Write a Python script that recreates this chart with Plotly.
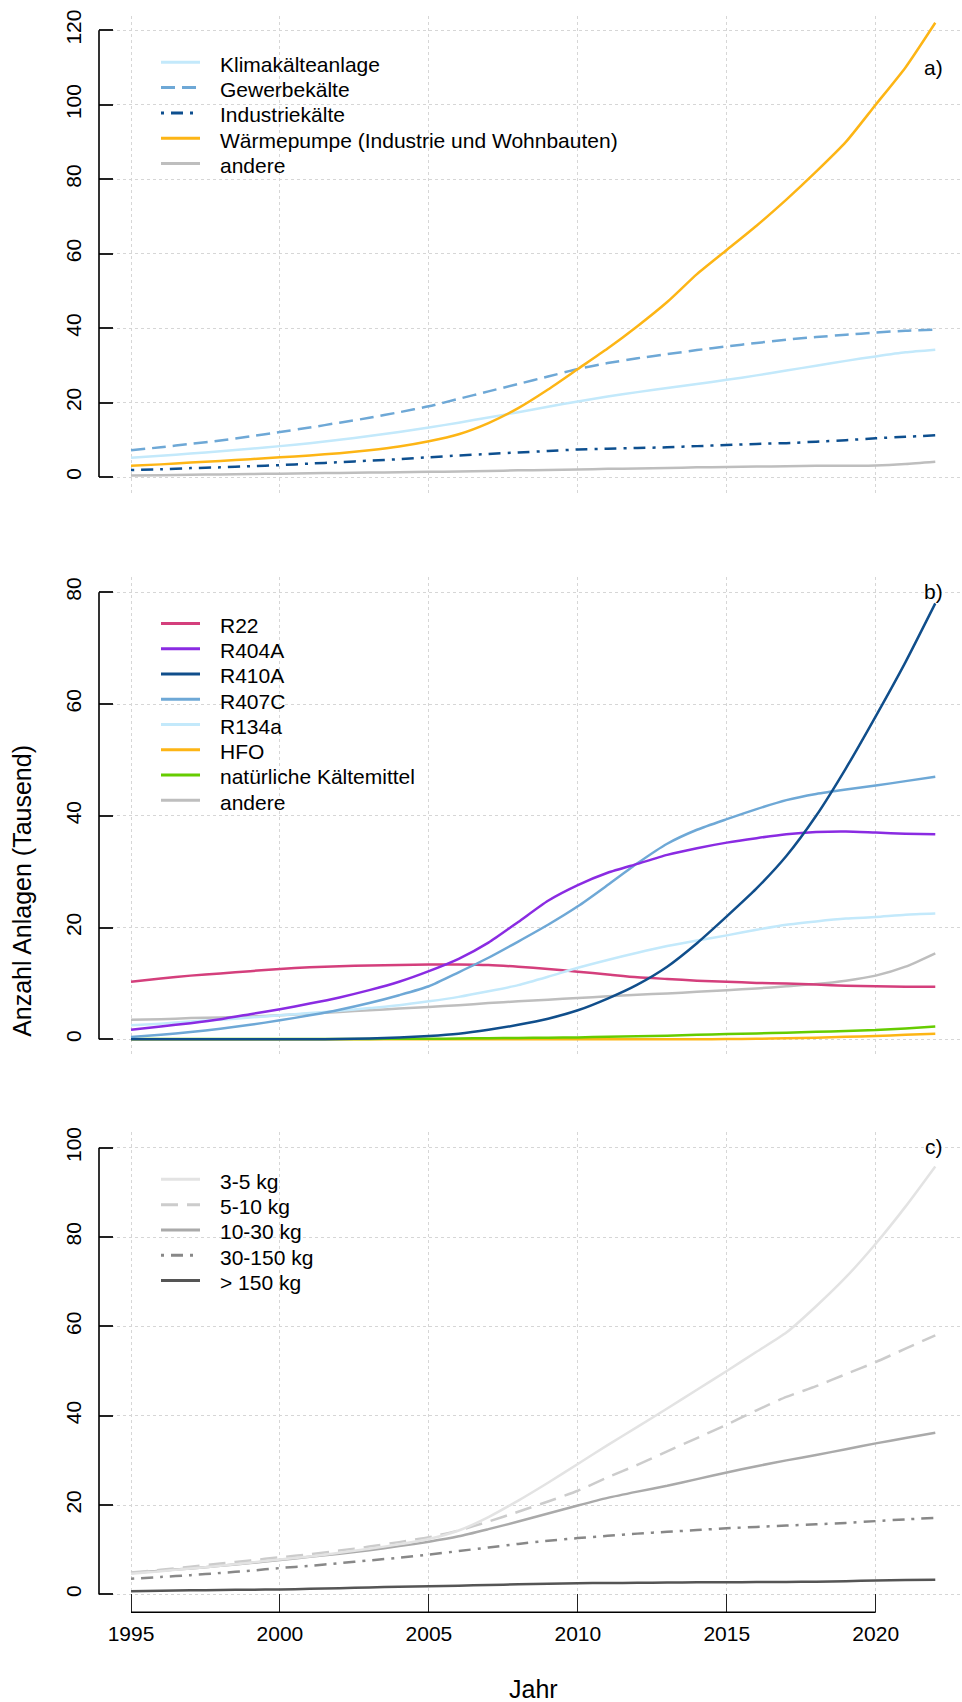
import plotly.graph_objects as go

W, H = 962, 1702
FONT = "Liberation Sans, Arial, sans-serif"

years = list(range(1995, 2023))
year_ticks = [1995, 2000, 2005, 2010, 2015, 2020]

# ---- a) Anzahl Anlagen nach Anwendungsbereich (Tausend) ----
a_names = ["Klimakälteanlage", "Gewerbekälte", "Industriekälte",
           "Wärmepumpe (Industrie und Wohnbauten)", "andere"]
a_klima = [5.2, 5.7, 6.3, 6.9, 7.6, 8.3, 9.1, 10.0, 11.0, 12.1, 13.3, 14.6, 16.0, 17.4,
           18.9, 20.3, 21.6, 22.8, 23.9, 25.0, 26.1, 27.3, 28.6, 29.9, 31.2, 32.4, 33.5, 34.2]
a_gewerbe = [7.2, 8.0, 8.9, 9.8, 10.9, 12.1, 13.3, 14.6, 15.9, 17.4, 19.0, 21.0, 23.0, 25.0,
             27.0, 29.0, 30.6, 31.9, 33.0, 34.1, 35.1, 36.0, 36.9, 37.6, 38.2, 38.8, 39.3, 39.6]
a_industrie = [1.9, 2.1, 2.4, 2.6, 2.9, 3.2, 3.6, 4.0, 4.4, 4.8, 5.3, 5.8, 6.2, 6.6,
               7.0, 7.4, 7.6, 7.8, 8.0, 8.3, 8.6, 8.9, 9.1, 9.5, 9.9, 10.4, 10.8, 11.2]
a_waermepumpe = [3.0, 3.4, 3.9, 4.3, 4.8, 5.3, 5.8, 6.4, 7.2, 8.2, 9.6, 11.5, 14.5, 18.5,
                 23.5, 29.0, 34.5, 40.5, 47.0, 54.5, 61.0, 67.5, 74.5, 82.0, 90.0, 100.0, 110.0, 122.0]
a_andere = [0.4, 0.5, 0.6, 0.7, 0.8, 0.9, 1.0, 1.1, 1.2, 1.3, 1.4, 1.5, 1.6, 1.8,
            1.9, 2.0, 2.2, 2.3, 2.4, 2.6, 2.7, 2.8, 2.9, 3.0, 3.0, 3.1, 3.5, 4.1]

# ---- b) Anzahl Anlagen nach Kältemittel (Tausend) ----
b_names = ["R22", "R404A", "R410A", "R407C", "R134a", "HFO",
           "natürliche Kältemittel", "andere"]
b_r22 = [10.3, 10.9, 11.4, 11.8, 12.2, 12.6, 12.9, 13.1, 13.2, 13.3, 13.4, 13.4, 13.3, 13.0,
         12.6, 12.1, 11.6, 11.1, 10.8, 10.5, 10.3, 10.1, 10.0, 9.8, 9.6, 9.5, 9.4, 9.4]
b_r404a = [1.7, 2.3, 2.9, 3.6, 4.5, 5.4, 6.4, 7.5, 8.8, 10.3, 12.2, 14.4, 17.3, 21.0,
           24.8, 27.6, 29.8, 31.4, 33.0, 34.2, 35.2, 36.0, 36.7, 37.1, 37.2, 37.0, 36.8, 36.7]
b_r410a = [0.0, 0.0, 0.0, 0.0, 0.0, 0.0, 0.02, 0.05, 0.15, 0.35, 0.6, 1.0, 1.7, 2.6,
           3.7, 5.2, 7.3, 9.8, 13.0, 17.2, 22.0, 27.0, 32.8, 40.0, 48.5, 57.8, 67.5, 78.0]
b_r407c = [0.4, 0.8, 1.3, 1.9, 2.6, 3.4, 4.3, 5.3, 6.5, 7.9, 9.5, 12.0, 14.6, 17.5,
           20.5, 23.8, 27.6, 31.5, 35.0, 37.5, 39.4, 41.2, 42.8, 43.9, 44.7, 45.4, 46.2, 47.0]
b_r134a = [2.5, 2.8, 3.2, 3.5, 3.9, 4.3, 4.7, 5.1, 5.6, 6.1, 6.8, 7.6, 8.6, 9.7,
           11.2, 12.8, 14.2, 15.5, 16.7, 17.7, 18.6, 19.6, 20.5, 21.1, 21.6, 21.9, 22.3, 22.5]
b_hfo = [0.0, 0.0, 0.0, 0.0, 0.0, 0.0, 0.0, 0.0, 0.0, 0.0, 0.0, 0.0, 0.0, 0.0,
         0.0, 0.0, 0.0, 0.0, 0.0, 0.02, 0.05, 0.1, 0.2, 0.3, 0.45, 0.6, 0.8, 1.0]
b_natuerlich = [0.05, 0.05, 0.05, 0.05, 0.05, 0.05, 0.06, 0.07, 0.08, 0.09, 0.1, 0.15, 0.2, 0.25,
                0.3, 0.35, 0.45, 0.55, 0.65, 0.8, 0.95, 1.05, 1.2, 1.35, 1.5, 1.65, 1.95, 2.3]
b_andere = [3.5, 3.6, 3.8, 3.9, 4.1, 4.3, 4.6, 4.9, 5.2, 5.5, 5.8, 6.1, 6.5, 6.8,
            7.1, 7.4, 7.7, 8.0, 8.2, 8.5, 8.8, 9.1, 9.5, 9.9, 10.5, 11.4, 13.0, 15.4]

# ---- c) Anzahl Anlagen nach Füllmenge (Tausend) ----
c_names = ["3-5 kg", "5-10 kg", "10-30 kg", "30-150 kg", "> 150 kg"]
c_3_5 = [4.6, 5.2, 5.8, 6.4, 7.1, 7.8, 8.5, 9.3, 10.2, 11.2, 12.4, 14.3, 17.3, 21.0,
         25.0, 29.2, 33.4, 37.5, 41.6, 45.8, 50.0, 54.3, 58.6, 64.5, 71.0, 78.5, 86.8, 95.8]
c_5_10 = [4.9, 5.5, 6.2, 6.9, 7.6, 8.3, 9.0, 9.8, 10.7, 11.7, 12.8, 14.3, 16.3, 18.5,
          20.8, 23.2, 26.2, 29.0, 32.0, 35.0, 38.0, 41.2, 44.2, 46.6, 49.3, 52.0, 55.0, 58.0]
c_10_30 = [4.8, 5.3, 5.8, 6.4, 7.0, 7.7, 8.4, 9.1, 9.9, 10.8, 11.8, 13.0, 14.6, 16.3,
           18.1, 19.9, 21.6, 23.0, 24.3, 25.8, 27.3, 28.7, 30.0, 31.2, 32.5, 33.8, 35.0, 36.2]
c_30_150 = [3.5, 3.9, 4.3, 4.8, 5.3, 5.9, 6.4, 7.0, 7.6, 8.2, 8.9, 9.7, 10.5, 11.3,
            12.0, 12.6, 13.1, 13.6, 14.0, 14.4, 14.8, 15.1, 15.4, 15.7, 16.0, 16.4, 16.8, 17.1]
c_150 = [0.7, 0.8, 0.9, 1.0, 1.05, 1.1, 1.25, 1.4, 1.55, 1.7, 1.8, 1.95, 2.1, 2.25,
         2.4, 2.5, 2.55, 2.6, 2.65, 2.7, 2.7, 2.75, 2.8, 2.85, 2.95, 3.1, 3.2, 3.3]

y_ticks_a = [0, 20, 40, 60, 80, 100, 120]
y_ticks_b = [0, 20, 40, 60, 80]
y_ticks_c = [0, 20, 40, 60, 80, 100]

# ---- line styles ----
DASHED = "14px,7px"
DASHED_LONG = "17px,9px"
DOTDASH = "3px,7px,12px,7px"
a_styles = [("#c3e9fb", None), ("#6ea8d6", DASHED), ("#0d4f8f", DOTDASH),
            ("#fdb515", None), ("#bebebe", None)]
b_styles = [("#d43f7c", None), ("#8a2be2", None), ("#104e8b", None), ("#6ea8d6", None),
            ("#c3e9fb", None), ("#fdb515", None), ("#66cc00", None), ("#bebebe", None)]
c_styles = [("#e3e3e3", None), ("#cccccc", DASHED_LONG), ("#aaaaaa", None),
            ("#888888", DOTDASH), ("#555555", None)]
LW = 2.5
TICK_SIZE = 21


def fx(px):
    return px / W


def fy(py):
    return 1 - py / H


# horizontal pixel geometry of the year scale
X_LEFT_PX = 99
PX_1995, PX_2020 = 131.0, 875.7
px_per_year = (PX_2020 - PX_1995) / 25
x_range = [1995 - (PX_1995 - X_LEFT_PX) / px_per_year,
           1995 + (W - PX_1995) / px_per_year]

# vertical pixel geometry per panel: (top, bottom, zero line, px per unit)
panels = [
    dict(top=10, bottom=490, zero=472.7, ppu=(472.7 - 24.3) / 120),
    dict(top=573, bottom=1055, zero=1037.0, ppu=(1037.0 - 588.3) / 80),
    dict(top=1130, bottom=1612, zero=1594.0, ppu=(1594.0 - 1145.7) / 100),
]

fig = go.Figure()

series = [
    (a_names, [a_klima, a_gewerbe, a_industrie, a_waermepumpe, a_andere], a_styles),
    (b_names, [b_r22, b_r404a, b_r410a, b_r407c, b_r134a, b_hfo, b_natuerlich, b_andere], b_styles),
    (c_names, [c_3_5, c_5_10, c_10_30, c_30_150, c_150], c_styles),
]
draw_order = [
    [4, 2, 0, 1, 3],
    [5, 6, 7, 0, 4, 3, 1, 2],
    [4, 3, 2, 1, 0],
]

for p, (names, values, styles) in enumerate(series):
    ax = "" if p == 0 else str(p + 1)
    for k in draw_order[p]:
        color, dash = styles[k]
        line = dict(color=color, width=LW)
        if dash:
            line["dash"] = dash
        fig.add_trace(go.Scatter(
            x=years, y=values[k], mode="lines", name=names[k],
            line=line, line_shape="spline", line_smoothing=0.6,
            xaxis="x" + ax, yaxis="y" + ax, showlegend=False,
            hoverinfo="x+y+name"))

grid = dict(showgrid=True, gridcolor="#d6d6d6", griddash="dot", gridwidth=1)
layout = dict(
    width=W, height=H, margin=dict(l=0, r=0, t=0, b=0),
    paper_bgcolor="white", plot_bgcolor="white",
    font=dict(family=FONT, size=TICK_SIZE, color="black"),
    showlegend=False,
)

y_ticks = [y_ticks_a, y_ticks_b, y_ticks_c]
for p, g in enumerate(panels):
    ax = "" if p == 0 else str(p + 1)
    y_lo = -(g["bottom"] - g["zero"]) / g["ppu"]
    y_hi = (g["zero"] - g["top"]) / g["ppu"]
    last = p == 2
    layout["xaxis" + ax] = dict(
        domain=[fx(X_LEFT_PX), 1], range=x_range, anchor="y" + ax,
        tickvals=year_ticks, showticklabels=last, ticks="inside" if last else "",
        ticklen=18, tickwidth=1, tickcolor="#222222",
        tickfont=dict(size=TICK_SIZE, family=FONT), ticklabelstandoff=7,
        showline=False, zeroline=False, fixedrange=True, **grid)
    layout["yaxis" + ax] = dict(
        domain=[fy(g["bottom"]), fy(g["top"])], range=[y_lo, y_hi], anchor="x" + ax,
        tickvals=y_ticks[p], ticks="inside", ticklen=14, tickwidth=1.5, tickcolor="#222222",
        tickangle=-90, tickfont=dict(size=TICK_SIZE, family=FONT), ticklabelstandoff=13,
        showline=False, zeroline=False, fixedrange=True, **grid)

shapes = []
annotations = []

# y axis lines spanning the tick range only
for p, g in enumerate(panels):
    ax = "" if p == 0 else str(p + 1)
    shapes.append(dict(type="line", xref="paper", yref="y" + ax,
                       x0=fx(X_LEFT_PX), x1=fx(X_LEFT_PX),
                       y0=y_ticks[p][0], y1=y_ticks[p][-1],
                       line=dict(color="black", width=1.6)))

# x axis line of the bottom panel, from first to last tick
shapes.append(dict(type="line", xref="x3", yref="paper",
                   x0=year_ticks[0], x1=year_ticks[-1],
                   y0=fy(panels[2]["bottom"]), y1=fy(panels[2]["bottom"]),
                   line=dict(color="black", width=1.6)))

# legends drawn inside each panel
legend_first = [58.5, 621.7, 1179.5]
legend_step = [25.4, 25.33, 25.4]
for p, (names, _, styles) in enumerate(series):
    for k, name in enumerate(names):
        yk = legend_first[p] + k * legend_step[p]
        color, dash = styles[k]
        line = dict(color=color, width=LW + 0.5)
        if dash:
            line["dash"] = dash
        shapes.append(dict(type="line", xref="paper", yref="paper",
                           x0=fx(161), x1=fx(200), y0=fy(yk - 2), y1=fy(yk - 2),
                           line=line))
        annotations.append(dict(text=name, xref="paper", yref="paper",
                                x=fx(218), y=fy(yk), xanchor="left", yanchor="middle",
                                showarrow=False, font=dict(size=21, family=FONT, color="black")))

# panel tags
for tag, yc in zip(["a)", "b)", "c)"], [61.7, 588.0, 1145.0]):
    annotations.append(dict(text=tag, xref="paper", yref="paper",
                            x=fx(945), y=fy(yc), xanchor="right", yanchor="middle",
                            showarrow=False, font=dict(size=21, family=FONT, color="black")))

# axis titles
annotations.append(dict(text="Anzahl Anlagen (Tausend)", xref="paper", yref="paper",
                        x=fx(22), y=fy(888), xanchor="center", yanchor="middle",
                        textangle=-90, showarrow=False,
                        font=dict(size=25, family=FONT, color="black")))
annotations.append(dict(text="Jahr", xref="paper", yref="paper",
                        x=fx(533), y=fy(1689), xanchor="center", yanchor="middle",
                        showarrow=False, font=dict(size=25, family=FONT, color="black")))

layout["shapes"] = shapes
layout["annotations"] = annotations
fig.update_layout(**layout)

fig.write_html("out.html")
